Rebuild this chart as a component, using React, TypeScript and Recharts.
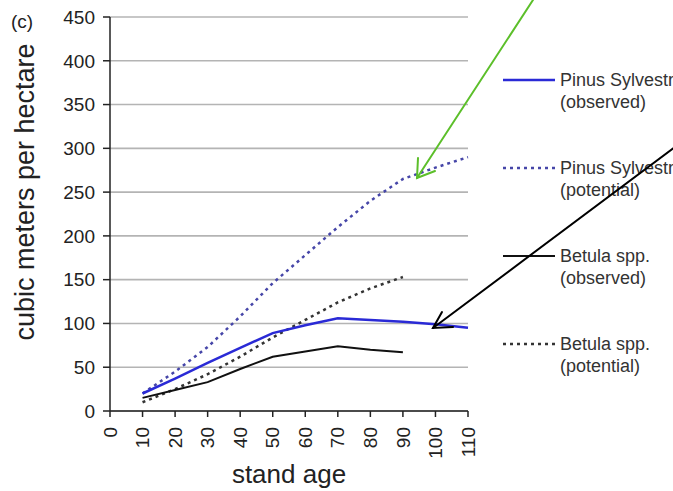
import React from "react";
import { LineChart, Line, XAxis, YAxis, CartesianGrid } from "recharts";

// stand age (years)
const ages = [10, 20, 30, 40, 50, 60, 70, 80, 90, 100, 110];
// cubic meters per hectare
const pinusObserved = [20, 37, 55, 72, 89, 98, 106, 104, 102, 99, 95];
const pinusPotential = [20, 45, 73, 108, 146, 178, 210, 240, 265, 278, 290];
const betulaObserved = [15, 24, 33, 48, 62, 68, 74, 70, 67, null, null];
const betulaPotential = [10, 25, 42, 62, 84, 104, 124, 140, 153, null, null];

const xTicks = [0, 10, 20, 30, 40, 50, 60, 70, 80, 90, 100, 110];
const yTicks = [0, 50, 100, 150, 200, 250, 300, 350, 400, 450];

const data = ages.map((age, i) => ({
  age,
  pinusObs: pinusObserved[i],
  pinusPot: pinusPotential[i],
  betulaObs: betulaObserved[i],
  betulaPot: betulaPotential[i],
}));

const FONT = '"Liberation Sans", Arial, sans-serif';

const legendItems = [
  { name: "Pinus Sylvestris", note: "(observed)", color: "#2a2ad6", dash: undefined, width: 2.5 },
  { name: "Pinus Sylvestris", note: "(potential)", color: "#4646a8", dash: "3 4", width: 2.5 },
  { name: "Betula spp.", note: "(observed)", color: "#111111", dash: undefined, width: 2 },
  { name: "Betula spp.", note: "(potential)", color: "#333333", dash: "3 4", width: 2.5 },
];

const XTick = ({ x, y, payload }: any) => (
  <g transform={`translate(${x},${y})`}>
    <text
      transform="rotate(-90)"
      textAnchor="end"
      dy="0.35em"
      fontSize={19}
      fill="#222"
      fontFamily={FONT}
    >
      {payload.value}
    </text>
  </g>
);

export default function App() {
  return (
    <div
      style={{
        position: "absolute",
        left: 0,
        top: 0,
        width: 673,
        height: 491,
        overflow: "hidden",
        background: "#fff",
        fontFamily: FONT,
      }}
    >
      <LineChart
        width={673}
        height={491}
        data={data}
        margin={{ top: 17, right: 205, bottom: 0, left: 0 }}
      >
        <CartesianGrid vertical={false} stroke="#b4b4b4" strokeWidth={1.6} />
        <XAxis
          dataKey="age"
          type="number"
          domain={[0, 110]}
          ticks={xTicks}
          interval={0}
          height={80}
          stroke="#222"
          strokeWidth={1.5}
          tickSize={6}
          tickMargin={10}
          tick={<XTick />}
          label={({ viewBox }: any) => (
            <text
              x={viewBox.x + viewBox.width / 2}
              y={483}
              textAnchor="middle"
              fontSize={26}
              fill="#222"
              fontFamily={FONT}
            >
              stand age
            </text>
          )}
        />
        <YAxis
          domain={[0, 450]}
          ticks={yTicks}
          interval={0}
          width={110}
          stroke="#222"
          strokeWidth={1.5}
          tickSize={7}
          tickMargin={8}
          tick={{ fontSize: 19, fill: "#222", fontFamily: FONT }}
          label={() => (
            <text
              x={25}
              y={192}
              transform="rotate(-90, 25, 192)"
              textAnchor="middle"
              dominantBaseline="central"
              fontSize={27}
              fill="#222"
              fontFamily={FONT}
            >
              cubic meters per hectare
            </text>
          )}
        />
        <Line
          type="linear"
          dataKey="betulaPot"
          name="Betula spp. (potential)"
          stroke="#333333"
          strokeWidth={2.5}
          strokeDasharray="3 4"
          dot={false}
          isAnimationActive={false}
        />
        <Line
          type="linear"
          dataKey="pinusPot"
          name="Pinus Sylvestris (potential)"
          stroke="#4646a8"
          strokeWidth={2.5}
          strokeDasharray="3 4"
          dot={false}
          isAnimationActive={false}
        />
        <Line
          type="linear"
          dataKey="betulaObs"
          name="Betula spp. (observed)"
          stroke="#111111"
          strokeWidth={2}
          dot={false}
          isAnimationActive={false}
        />
        <Line
          type="linear"
          dataKey="pinusObs"
          name="Pinus Sylvestris (observed)"
          stroke="#2a2ad6"
          strokeWidth={2.5}
          dot={false}
          isAnimationActive={false}
        />
      </LineChart>

      {/* legend, outside the plot on the right (clipped at the edge as in the source) */}
      {legendItems.map((item, i) => (
        <div
          key={i}
          style={{
            position: "absolute",
            left: 503,
            top: 69 + i * 88,
            whiteSpace: "nowrap",
          }}
        >
          <svg width={54} height={22} style={{ position: "absolute", left: 0, top: 0 }}>
            <line
              x1={0}
              x2={52}
              y1={11}
              y2={11}
              stroke={item.color}
              strokeWidth={item.width}
              strokeDasharray={item.dash}
            />
          </svg>
          <div
            style={{
              position: "absolute",
              left: 57,
              top: 0,
              fontSize: 18,
              lineHeight: "22px",
              color: "#333",
            }}
          >
            {item.name}
            <br />
            {item.note}
          </div>
        </div>
      ))}

      {/* panel letter and annotation arrows */}
      <svg
        width={673}
        height={491}
        style={{ position: "absolute", left: 0, top: 0, pointerEvents: "none" }}
      >
        <text x={11} y={28} fontSize={19} fill="#222" fontFamily={FONT}>
          (c)
        </text>
        <g stroke="#5cbf2a" strokeWidth={2} fill="none" strokeLinecap="round">
          <line x1={533} y1={0} x2={417} y2={178} />
          <polyline points="418,158 417,178 435,171" />
        </g>
        <g stroke="#000" strokeWidth={2} fill="none" strokeLinecap="round">
          <line x1={675} y1={147} x2={433} y2={328} />
          <polyline points="442,312 433,328 453,327" />
        </g>
      </svg>
    </div>
  );
}
